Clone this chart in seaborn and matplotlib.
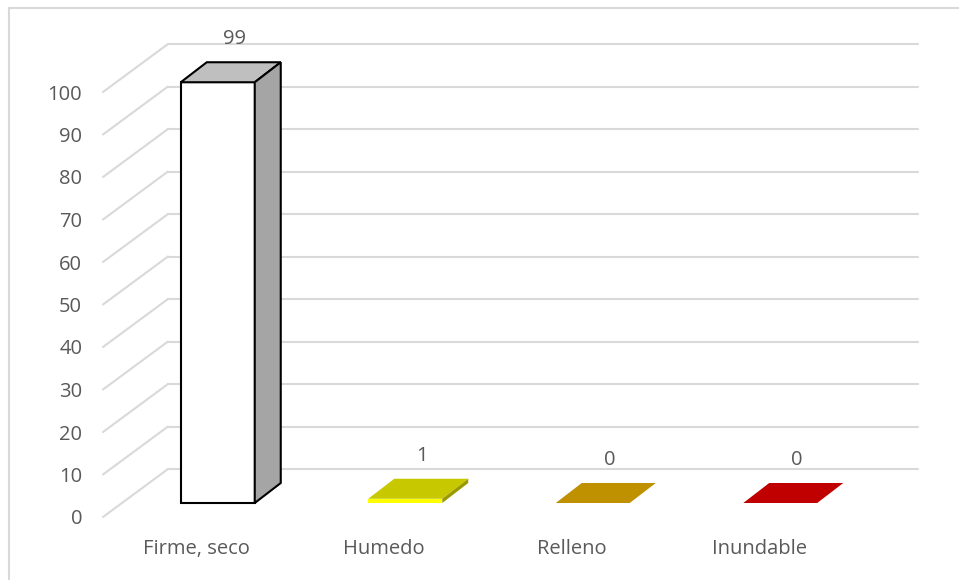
import matplotlib
matplotlib.use("Agg")
import matplotlib.pyplot as plt
from matplotlib.patches import Polygon, Rectangle
from matplotlib.transforms import ScaledTranslation
import seaborn as sns
import pandas as pd

# Data
categories = ["Firme, seco", "Humedo", "Relleno", "Inundable"]
values = [99, 1, 0, 0]
y_ticks = [0, 10, 20, 30, 40, 50, 60, 70, 80, 90, 100]

# Face colours for each column: front, top, side
front_colors = ["#ffffff", "#ffff00", "#bf9000", "#c00000"]
top_colors = ["#bfbfbf", "#c8c800", "#bf9000", "#c00000"]
side_colors = ["#a5a5a5", "#9a9a00", "#8f6c00", "#900000"]
edge_colors = ["#000000", "none", "none", "none"]

TEXT = "#595959"
GRID = "#d9d9d9"
FONT = "Open Sans"
FS = 14.5

sns.set_theme(style="white")
plt.rcParams["font.family"] = [FONT, "DejaVu Sans"]

W, H, DPI = 959, 580, 100
fig = plt.figure(figsize=(W / DPI, H / DPI), dpi=DPI)

# Front plane of the 3D box (pixels)
left_px, right_px, bottom_px, top_px = 103, 853, 517, 92
ax = fig.add_axes([left_px / W, 1 - bottom_px / H,
                   (right_px - left_px) / W, (bottom_px - top_px) / H])

df = pd.DataFrame({"cat": categories, "val": values})
bar_w = 74 / 187.5
sns.barplot(data=df, x="cat", y="val", hue="cat", palette=front_colors,
            width=bar_w, legend=False, ax=ax, saturation=1, zorder=3)

ax.set_xlim(-0.5, len(categories) - 0.5)
ax.set_ylim(0, 100)

# pixel -> data conversions
px_x = (right_px - left_px) / (len(categories))
px_y = (bottom_px - top_px) / 100.0

def d(dx_px, dy_px):
    return dx_px / px_x, dy_px / px_y

# Back wall: gridlines and diagonal wall edges
wall_dx, wall_dy = d(65, 48)
x0, x1 = ax.get_xlim()
for t in y_ticks:
    ax.plot([x0 + wall_dx, x1 + wall_dx], [t + wall_dy, t + wall_dy],
            color=GRID, lw=1.5, clip_on=False, zorder=1)
    ax.plot([x0, x0 + wall_dx], [t, t + wall_dy],
            color=GRID, lw=1.5, clip_on=False, zorder=1)

# Columns: shift fronts into the depth of the box and add top/side faces
shift = ScaledTranslation(21 / DPI, 14 / DPI, fig.dpi_scale_trans)
trans = ax.transData + shift
depth_dx, depth_dy = d(26, 20)
for i, p in enumerate(ax.patches):
    p.set_transform(trans)
    p.set_clip_on(False)
    p.set_edgecolor(edge_colors[i])
    p.set_linewidth(1.5 if edge_colors[i] != "none" else 0)
    bx0 = p.get_x()
    bx1 = bx0 + p.get_width()
    h = p.get_height()
    top = Polygon([(bx0, h), (bx1, h), (bx1 + depth_dx, h + depth_dy),
                   (bx0 + depth_dx, h + depth_dy)], closed=True,
                  facecolor=top_colors[i], edgecolor=edge_colors[i],
                  lw=1.5 if edge_colors[i] != "none" else 0,
                  transform=trans, clip_on=False, zorder=4)
    ax.add_patch(top)
    if h > 0:
        side = Polygon([(bx1, 0), (bx1, h), (bx1 + depth_dx, h + depth_dy),
                        (bx1 + depth_dx, depth_dy)], closed=True,
                       facecolor=side_colors[i], edgecolor=edge_colors[i],
                       lw=1.5 if edge_colors[i] != "none" else 0,
                       transform=trans, clip_on=False, zorder=4)
        ax.add_patch(side)
    ax.annotate(f"{values[i]}", xy=(i, h), xytext=(38, 57),
                textcoords="offset pixels", ha="center", va="center",
                fontsize=FS, color=TEXT, annotation_clip=False)

# Axes styling
for s in ax.spines.values():
    s.set_visible(False)
ax.set_facecolor("none")
ax.set_yticks(y_ticks)
ax.set_yticklabels([str(t) for t in y_ticks], fontsize=FS, color=TEXT)
ax.tick_params(axis="y", length=0, pad=15)
ax.tick_params(axis="x", length=0, pad=16, labelsize=FS, labelcolor=TEXT)
ax.set_xlabel("")
ax.set_ylabel("")

# Chart-area border
fig.patches.append(Rectangle((9 / W, -0.1), 1.2, 1 - 8 / H + 0.1,
                             transform=fig.transFigure, fill=False,
                             edgecolor="#d9d9d9", lw=1.5))

fig.savefig("out.png", dpi=DPI, facecolor="white")
